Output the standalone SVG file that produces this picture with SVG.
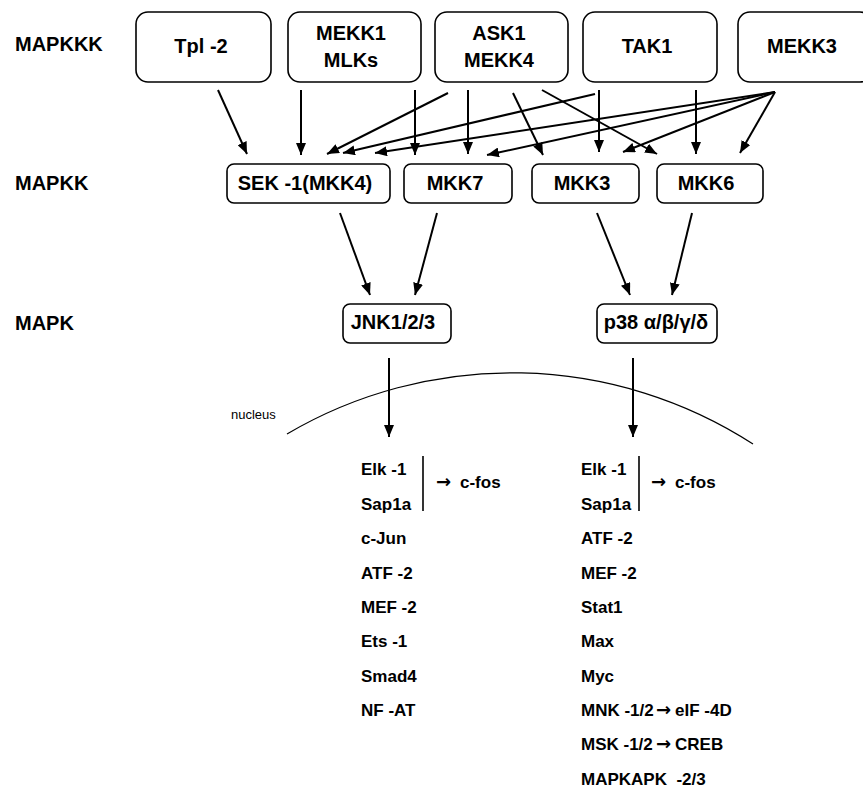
<svg xmlns="http://www.w3.org/2000/svg" width="863" height="789" viewBox="0 0 863 789">
<defs>
<style>
.box{fill:#fff;stroke:#000;stroke-width:1.6}
.t{font-family:"Liberation Sans",Arial,sans-serif;font-weight:bold;font-size:20px;fill:#000}
.c{text-anchor:middle}
.l{font-family:"Liberation Sans",Arial,sans-serif;font-weight:bold;font-size:17px;fill:#000}
.a{font-family:"DejaVu Sans",sans-serif;font-weight:bold;font-size:18px}
.n{font-family:"Liberation Sans",Arial,sans-serif;font-size:13px;fill:#000}
.e{stroke:#000;stroke-width:2;fill:none;marker-end:url(#ah)}
.bar{stroke:#000;stroke-width:1.6}
</style>
<marker id="ah" viewBox="0 0 12 10" markerWidth="12" markerHeight="10" refX="12" refY="5" orient="auto" markerUnits="userSpaceOnUse">
<path d="M0,0 L12,5 L0,10 z" fill="#000"/>
</marker>
</defs>
<rect width="863" height="789" fill="#fff"/>

<g id="levels">
<text class="t" x="15" y="51">MAPKKK</text>
<text class="t" x="15" y="190">MAPKK</text>
<text class="t" x="15" y="330">MAPK</text>
</g>

<g id="tpl2"><rect class="box" x="136" y="12" width="135" height="70" rx="12"/><text class="t c" x="201" y="53">Tpl -2</text></g>
<g id="mekk1"><rect class="box" x="288" y="12" width="133" height="70" rx="12"/><text class="t c" x="351" y="40">MEKK1</text><text class="t c" x="351" y="67">MLKs</text></g>
<g id="ask1"><rect class="box" x="435" y="12" width="133" height="70" rx="12"/><text class="t c" x="499" y="40">ASK1</text><text class="t c" x="499" y="67">MEKK4</text></g>
<g id="tak1"><rect class="box" x="583" y="12" width="134" height="70" rx="12"/><text class="t c" x="647" y="53">TAK1</text></g>
<g id="mekk3"><rect class="box" x="738" y="12" width="134" height="70" rx="12"/><text class="t c" x="802" y="53">MEKK3</text></g>

<g id="sek1"><rect class="box" x="227" y="164" width="163" height="39" rx="7"/><text class="t c" x="305" y="190">SEK -1(MKK4)</text></g>
<g id="mkk7"><rect class="box" x="404" y="164" width="108" height="39" rx="7"/><text class="t c" x="455" y="190">MKK7</text></g>
<g id="mkk3"><rect class="box" x="532" y="164" width="107" height="39" rx="7"/><text class="t c" x="582" y="190">MKK3</text></g>
<g id="mkk6"><rect class="box" x="657" y="164" width="106" height="39" rx="7"/><text class="t c" x="706" y="190">MKK6</text></g>

<g id="jnk"><rect class="box" x="343" y="304" width="108" height="39" rx="7"/><text class="t c" x="393" y="329">JNK1/2/3</text></g>
<g id="p38"><rect class="box" x="597" y="304" width="120" height="39" rx="7"/><text class="t c" x="656" y="329">p38 α/β/γ/δ</text></g>

<g id="nucleus">
<path d="M287,434 A444,444 0 0 1 753,444" fill="none" stroke="#000" stroke-width="1.2"/>
<text class="n" x="231" y="419">nucleus</text>
</g>

<g id="connectors">
<line class="e" x1="218" y1="90" x2="247" y2="154"/>
<line class="e" x1="301" y1="90" x2="301" y2="155"/>
<line class="e" x1="415" y1="90" x2="415" y2="155"/>
<line class="e" x1="448" y1="93" x2="327" y2="154"/>
<line class="e" x1="468" y1="90" x2="468" y2="154"/>
<line class="e" x1="513" y1="93" x2="543" y2="155"/>
<line class="e" x1="542" y1="90" x2="657" y2="154"/>
<line class="e" x1="595" y1="94" x2="343" y2="153"/>
<line class="e" x1="599" y1="90" x2="599" y2="152"/>
<line class="e" x1="696" y1="90" x2="696" y2="154"/>
<line class="e" x1="775" y1="92" x2="375" y2="153"/>
<line class="e" x1="775" y1="92" x2="487" y2="155"/>
<line class="e" x1="775" y1="92" x2="623" y2="152"/>
<line class="e" x1="775" y1="92" x2="740" y2="153"/>
<line class="e" x1="340" y1="213" x2="370" y2="295"/>
<line class="e" x1="437" y1="213" x2="415" y2="295"/>
<line class="e" x1="597" y1="213" x2="630" y2="295"/>
<line class="e" x1="692" y1="213" x2="672" y2="295"/>
<line class="e" x1="389" y1="358" x2="389" y2="437"/>
<line class="e" x1="633" y1="358" x2="633" y2="437"/>
</g>

<g id="jnk-targets">
<text class="l" x="361" y="475">Elk -1</text>
<text class="l" x="361" y="510">Sap1a</text>
<line class="bar" x1="423" y1="456" x2="423" y2="511"/>
<text class="l" x="436" y="488"><tspan class="a">→</tspan><tspan x="460">c-fos</tspan></text>
<text class="l" x="361" y="544">c-Jun</text>
<text class="l" x="361" y="579">ATF -2</text>
<text class="l" x="361" y="613">MEF -2</text>
<text class="l" x="361" y="647">Ets -1</text>
<text class="l" x="361" y="682">Smad4</text>
<text class="l" x="361" y="716">NF -AT</text>
</g>

<g id="p38-targets">
<text class="l" x="581" y="475">Elk -1</text>
<text class="l" x="581" y="510">Sap1a</text>
<line class="bar" x1="639" y1="456" x2="639" y2="511"/>
<text class="l" x="651" y="488"><tspan class="a">→</tspan><tspan x="675">c-fos</tspan></text>
<text class="l" x="581" y="544">ATF -2</text>
<text class="l" x="581" y="579">MEF -2</text>
<text class="l" x="581" y="613">Stat1</text>
<text class="l" x="581" y="647">Max</text>
<text class="l" x="581" y="682">Myc</text>
<text class="l" x="581" y="716">MNK -1/2<tspan class="a" x="656">→</tspan><tspan x="675">eIF -4D</tspan></text>
<text class="l" x="581" y="750">MSK -1/2<tspan class="a" x="656">→</tspan><tspan x="675">CREB</tspan></text>
<text class="l" x="581" y="785" xml:space="preserve">MAPKAPK  -2/3</text>
</g>
</svg>
